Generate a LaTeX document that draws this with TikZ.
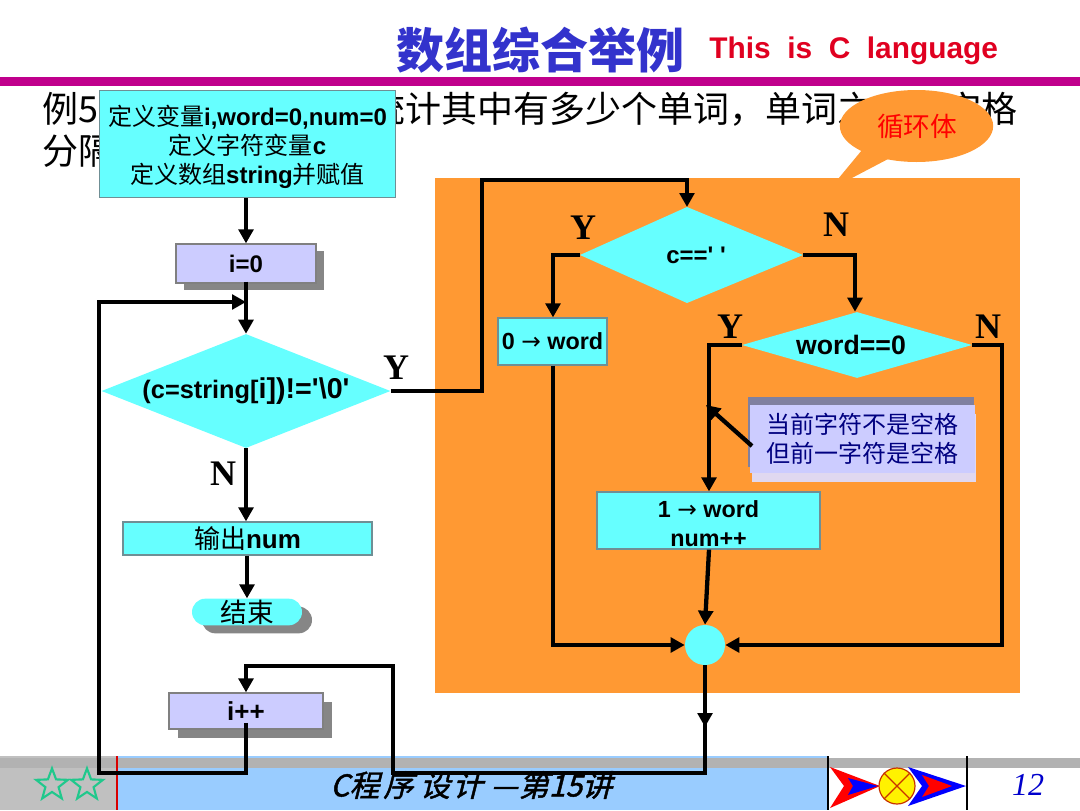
\documentclass[tikz,border=0pt]{standalone}
\usepackage{fontspec}
\setmainfont{Liberation Sans}
\newfontfamily\arial{Liberation Sans}
\newfontfamily\djv{DejaVu Sans}
\newfontfamily\cjk{Noto Sans CJK SC}
\newfontfamily\cjkslant[FakeSlant=0.25,FakeBold=1.5]{Noto Sans CJK SC}
\newfontfamily\tms{Liberation Serif}
\usetikzlibrary{shapes.geometric,shapes.misc,arrows.meta}
\newcommand{\zh}[1]{{\cjk\mdseries #1}}
\newcommand{\fsz}[2]{\fontsize{#1pt}{#2pt}\selectfont}
\newcommand{\sq}{{\arial'}}
\newcommand{\thinarrow}{{\djv\mdseries →}}
\definecolor{cyanbox}{HTML}{66FFFF}
\definecolor{lav}{HTML}{CCCCFF}
\definecolor{orangebg}{HTML}{FF9933}
\definecolor{edgegray}{HTML}{6F8F95}
\definecolor{shadowgray}{HTML}{868686}
\definecolor{footgray}{HTML}{C0C0C0}
\definecolor{footblue}{HTML}{99CCFF}
\definecolor{footbar}{HTML}{B2B2B2}
\definecolor{stargreen}{HTML}{20C88C}
\definecolor{logored}{HTML}{C83200}
\definecolor{pageblue}{HTML}{0000CC}
\definecolor{titleblue}{HTML}{3333CC}
\definecolor{subred}{HTML}{E00020}
\definecolor{rulemag}{HTML}{C0008C}
\definecolor{notelight}{HTML}{E0D8F0}
\definecolor{notedark}{HTML}{8080A0}
\definecolor{notetext}{HTML}{000080}
\tikzset{
  x=0.75pt,y=-0.75pt,
  flow/.style={line width=3.2pt,draw=black},
  tip/.style={-{Triangle[length=10.5pt,width=11pt]}},
  cyanrect/.style={rectangle,draw=edgegray,line width=0.9pt,fill=cyanbox,inner sep=0pt,align=center,font=\bfseries\fsz{18}{21.75}},
  lavrect/.style={rectangle,draw=gray,line width=0.9pt,fill=lav,inner sep=0pt,align=center,font=\bfseries\fsz{18}{21}},
  shadowrect/.style={rectangle,fill=shadowgray,draw=none,inner sep=0pt},
  dia/.style={diamond,fill=cyanbox,draw=none,inner sep=0pt,align=center},
  letter/.style={font=\tms\bfseries\fsz{27}{27},text=black,inner sep=0pt},
  body/.style={font=\cjk\fsz{27}{27},text=black,inner sep=0pt,anchor=west},
  band/.style={rectangle,draw=none,inner sep=0pt,anchor=north west},
  starmark/.style={star,star points=5,star point ratio=2.4,draw=stargreen,line width=1.6pt,minimum size=25pt,inner sep=0pt},
}
\begin{document}
\begin{tikzpicture}
\useasboundingbox (0,0) rectangle (1080,810);
% footer
\node[band,fill=footgray,minimum width=88pt,minimum height=40.5pt] (footleft) at (0,756) {};
\node[band,fill=footblue,minimum width=532.5pt,minimum height=40.5pt] (footbl) at (118,756) {};
\node[band,fill=footbar,minimum width=810pt,minimum height=7.5pt] (footbr) at (0,757.5) {};
\coordinate (ra) at (117,756); \coordinate (rb) at (117,810);
\draw[red!85!black,line width=1pt] (ra) -- (rb);
\coordinate (ba) at (828,756); \coordinate (bb) at (828,810);
\coordinate (ca) at (967,756); \coordinate (cb) at (967,810);
\draw[black,line width=1pt] (ba) -- (bb) (ca) -- (cb);
\node[starmark] (st1) at (52,785) {};
\node[starmark] (st2) at (87,785) {};
% logo
\fill[red] (830,767) -- (880,786) -- (830,808) -- (844,786) -- cycle;
\fill[blue] (848,778) -- (878,786) -- (848,795) -- (853,786) -- cycle;
\fill[blue] (908,767) -- (966,786) -- (908,806) -- (922,786) -- cycle;
\fill[red] (922,775) -- (952,786) -- (922,797) -- (929,786) -- cycle;
\node[circle,fill=yellow,draw=logored,line width=0.9pt,minimum size=27pt,inner sep=0pt] (logoc) at (897,786) {};
\draw[logored,line width=0.9pt] (logoc.45) -- (logoc.225) (logoc.135) -- (logoc.315);
\node[inner sep=0pt,text=pageblue,font=\tms\itshape\fsz{24}{24}] (pagenum) at (1028,785) {12};
\node[inner sep=0pt,anchor=west,font=\cjkslant\fsz{22.5}{25},text=black] (foot) at (330,785) {C程\hspace{3pt}序\hspace{5pt}设\hspace{2pt}计\hspace{6pt}—\hspace{1pt}第15讲};
% heading
\node[inner sep=0pt,anchor=west,text=titleblue,font=\cjk\bfseries\fsz{36}{36}] (title) at (396,50) {数组综合举例};
\node[inner sep=0pt,anchor=west,text=subred,font=\bfseries\fsz{22.4}{24}] (sub) at (709,51) {This\ \ is\ \ C\ \ language};
\node[band,fill=rulemag,minimum width=810pt,minimum height=6.75pt] (rule) at (0,77) {};
% body text
\node[body] (l1a) at (42,109) {例5};
\node[body] (l1b) at (369,109) {统计其中有多少个单词，单词之};
\node[body] (l1c) at (945,109) {空格};
\node[body] (l2a) at (42,151) {分隔};
% orange panel
\node[band,fill=orangebg,minimum width=438.75pt,minimum height=386.25pt] (panel) at (435,178) {};
\fill[orangebg] (862,150) -- (838,179) -- (850,179) -- (890,158) -- cycle;
\node[ellipse,fill=orangebg,minimum width=115pt,minimum height=54pt,inner sep=0pt] (callout) at (916.5,126) {};
\node[inner sep=0pt,text=red,font=\cjk\fsz{20}{20}] (calltext) at (917,126) {循环体};
% left column
\node[cyanrect,minimum width=222pt,minimum height=80.25pt] (box1) at (247.5,144) {\rule{0pt}{20pt}\zh{定义变量}i,word=0,num=0\\\zh{定义字符变量}c\\\zh{定义数组}string\zh{并赋值}};
\node[shadowrect,minimum width=105pt,minimum height=29.25pt] (i0s) at (254,270) {};
\node[lavrect,minimum width=105pt,minimum height=29.25pt] (i0) at (246,263.5) {i=0};
\node[dia,aspect=2.535,minimum width=216.75pt,minimum height=85.5pt] (d1) at (246,391) {\raisebox{-1.5pt}{\bfseries\fsz{19}{24}(c=string[\fsz{21.5}{24}i])!=\sq\textbackslash 0\sq}};
\node[cyanrect,minimum width=186.75pt,minimum height=24.75pt] (out) at (247.5,538.5) {\raisebox{-0.8pt}{\fsz{19.5}{22}\zh{输出}num}};
\node[rounded rectangle,fill=shadowgray,minimum width=82.5pt,minimum height=20pt,inner sep=0pt] (ends) at (257,620) {};
\node[rounded rectangle,fill=cyanbox,minimum width=82.5pt,minimum height=20pt,inner sep=0pt,font=\cjk\fsz{20}{20}] (end) at (247,612) {结束};
\node[shadowrect,minimum width=115.5pt,minimum height=27pt] (incs) at (255,720) {};
\node[lavrect,minimum width=115.5pt,minimum height=27pt,font=\bfseries\fsz{19.5}{22}] (inc) at (246,711) {i++};
% right part
\coordinate (d2n) at (687,207); \coordinate (d2e) at (803,255); \coordinate (d2s) at (687,303); \coordinate (d2w) at (580,255);
\fill[cyanbox] (d2n) -- (d2e) -- (d2s) -- (d2w) -- cycle;
\node[inner sep=0pt,font=\bfseries\fsz{18}{22}] (d2t) at (696,255) {c==\sq\ \sq};
\node[cyanrect,minimum width=81.75pt,minimum height=35.25pt,font=\bfseries\fsz{17.5}{21}] (zero) at (552.5,341.5) {0 \thinarrow\ word};
\node[dia,aspect=3.48,minimum width=172.5pt,minimum height=49.5pt] (d3) at (857,345) {\bfseries\fsz{20}{22}word==0\hspace{9pt}};
\node[cyanrect,minimum width=167.25pt,minimum height=42.75pt,font=\bfseries\fsz{17.5}{21.75}] (one) at (708.5,520.5) {\rule{0pt}{17pt}1 \thinarrow\ word\\num++};
\node[circle,fill=cyanbox,minimum size=30pt,inner sep=0pt] (join) at (705,645) {};
% note
\node[rectangle,fill=notelight,minimum width=168pt,minimum height=51pt,inner sep=0pt] (notel) at (864,448) {};
\node[rectangle,fill=notedark,minimum width=169.5pt,minimum height=52.5pt,inner sep=0pt] (noted) at (861,432) {};
\node[rectangle,fill=lav,minimum width=168.75pt,minimum height=51pt,inner sep=0pt,align=center,text=notetext,font=\cjk\fsz{18}{21.75}] (note) at (862.5,439) {当前字符不是空格\\但前一字符是空格};
% labels
\node[letter] (y1) at (396,368) {Y};
\node[letter] (n1) at (223,474) {N};
\node[letter] (y2) at (583,228) {Y};
\node[letter] (n2) at (836,225) {N};
\node[letter] (y3) at (730,327) {Y};
\node[letter] (n3) at (988,327) {N};
% way points
\coordinate (a1) at (482,391); \coordinate (a2) at (482,180); \coordinate (a3) at (687,180);
\coordinate (b1) at (553,255);
\coordinate (c1) at (855,255);
\coordinate (e1) at (709,345);
\coordinate (f1) at (1002,345); \coordinate (f2) at (1002,645);
\coordinate (g1) at (553,645);
\coordinate (h0) at (705,716); \coordinate (h1) at (705,727); \coordinate (h2) at (705,773); \coordinate (h3) at (393,773); \coordinate (h4) at (393,666); \coordinate (h5) at (246,666);
\coordinate (k1) at (246,773); \coordinate (k2) at (99,773); \coordinate (k3) at (99,302); \coordinate (k4) at (246,302);
\coordinate (n0) at (752,446); \coordinate (n9) at (706,405);
% connectors
\draw[flow,tip] (box1.south -| i0.north) -- (i0.north);
\draw[flow,tip] ([yshift=1.5pt]i0.south) -- (d1.north);
\draw[flow,tip] ([yshift=5pt]inc.south) -- (k1) -- (k2) -- (k3) -- (k4);
\draw[flow,tip] (d1.east) -- (a1) -- (a2) -- (a3) -- (d2n);
\draw[flow,tip] (d1.south) -- (out.north -| d1.south);
\draw[flow,tip] (out.south -| end.north) -- (end.north);
\draw[flow,tip] (d2w) -- (b1) -- (zero.north -| b1);
\draw[flow,tip] (d2e) -- (c1) -- (d3.north -| c1);
\draw[flow,tip] (d3.west) -- (e1) -- (one.north -| e1);
\draw[flow,tip] (d3.east) -- (f1) -- (f2) -- (join.east);
\draw[flow,tip] (zero.south -| b1) -- (g1) -- (join.west);
\draw[flow,tip] (one.south -| e1) -- (join.north);
\draw[flow,tip] (join.south) -- (h1);
\draw[flow,tip] (h0) -- (h2) -- (h3) -- (h4) -- (h5) -- (inc.north);
\draw[flow,tip] (n0) -- (n9);
\end{tikzpicture}
\end{document}
